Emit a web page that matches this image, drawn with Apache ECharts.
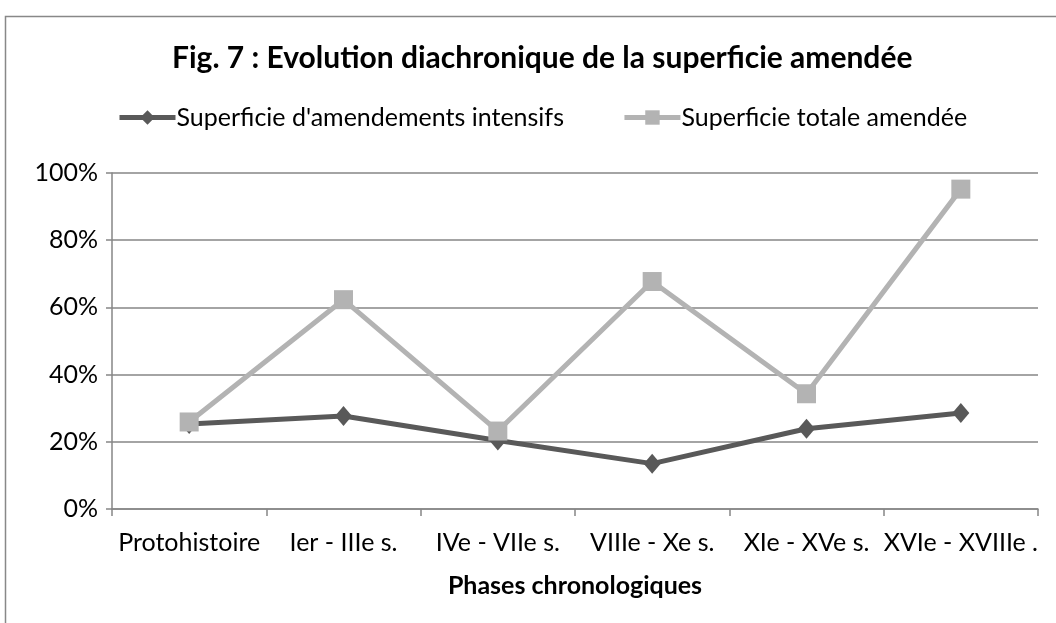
<!DOCTYPE html>
<html>
<head>
<meta charset="utf-8">
<script src="https://cdn.jsdelivr.net/npm/echarts@6/dist/echarts.min.js"></script>
<style>
  html, body { margin: 0; padding: 0; background: #fff; }
  #graph { width: 1056px; height: 623px; }
</style>
</head>
<body>
<div id="graph"></div>
<script>
var phases = ['Protohistoire', 'Ier - IIIe s.', 'IVe - VIIe s.', 'VIIIe - Xe s.', 'XIe - XVe s.', 'XVIe - XVIIIe .'];
var intensifs = [0.253, 0.277, 0.204, 0.135, 0.239, 0.286];
var totale = [0.259, 0.623, 0.232, 0.677, 0.343, 0.952];
var yTicks = [0, 0.2, 0.4, 0.6, 0.8, 1];

var font = 'Lato, "Open Sans", sans-serif';
var chart = echarts.init(document.getElementById('graph'), null, { renderer: 'canvas' });

var option = {
  backgroundColor: '#fff',
  animation: false,
  title: {
    text: 'Fig. 7 : Evolution diachronique de la superficie amendée',
    left: 167,
    top: 38,
    textStyle: { fontFamily: font, fontSize: 30, fontWeight: 'bold', color: '#000' }
  },
  legend: {
    top: 100,
    left: 112,
    itemGap: 58,
    itemWidth: 56,
    itemHeight: 18,
    lineStyle: { width: 5 },
    textStyle: { fontFamily: font, fontSize: 25, color: '#000', padding: [0, 0, 0, -4] },
    data: ['Superficie d\'amendements intensifs', 'Superficie totale amendée']
  },
  grid: { left: 112, right: 18, top: 173, bottom: 114 },
  xAxis: {
    type: 'category',
    data: phases,
    boundaryGap: true,
    name: 'Phases chronologiques',
    nameLocation: 'middle',
    nameGap: 64,
    nameTextStyle: { fontFamily: font, fontSize: 25, fontWeight: 'bold', color: '#000' },
    axisLine: { lineStyle: { color: '#868686', width: 1.5 } },
    axisTick: { show: true, length: 7, lineStyle: { color: '#868686', width: 1.5 } },
    axisLabel: { fontFamily: font, fontSize: 25, color: '#000', margin: 21, interval: 0 }
  },
  yAxis: {
    type: 'value',
    min: yTicks[0],
    max: yTicks[yTicks.length - 1],
    interval: 0.2,
    axisLine: { show: true, lineStyle: { color: '#868686', width: 1.5 } },
    axisTick: { show: true, length: 6, lineStyle: { color: '#868686', width: 1.5 } },
    splitLine: { lineStyle: { color: '#868686', width: 1.5 } },
    axisLabel: {
      fontFamily: font, fontSize: 25, color: '#000', margin: 14,
      formatter: function (v) { return Math.round(v * 100) + '%'; }
    }
  },
  graphic: [{
    type: 'rect',
    shape: { x: 5.5, y: 16.5, width: 1200, height: 800 },
    style: { fill: 'none', stroke: '#888', lineWidth: 1.5 },
    silent: true
  }],
  series: [
    {
      name: 'Superficie d\'amendements intensifs',
      type: 'line',
      data: intensifs,
      symbol: 'diamond',
      symbolSize: [17, 20],
      itemStyle: { color: '#595959' },
      lineStyle: { color: '#595959', width: 5 }
    },
    {
      name: 'Superficie totale amendée',
      type: 'line',
      data: totale,
      symbol: 'rect',
      symbolSize: 19,
      itemStyle: { color: '#b3b3b3' },
      lineStyle: { color: '#b3b3b3', width: 5 }
    }
  ]
};
chart.setOption(option);
</script>
</body>
</html>
